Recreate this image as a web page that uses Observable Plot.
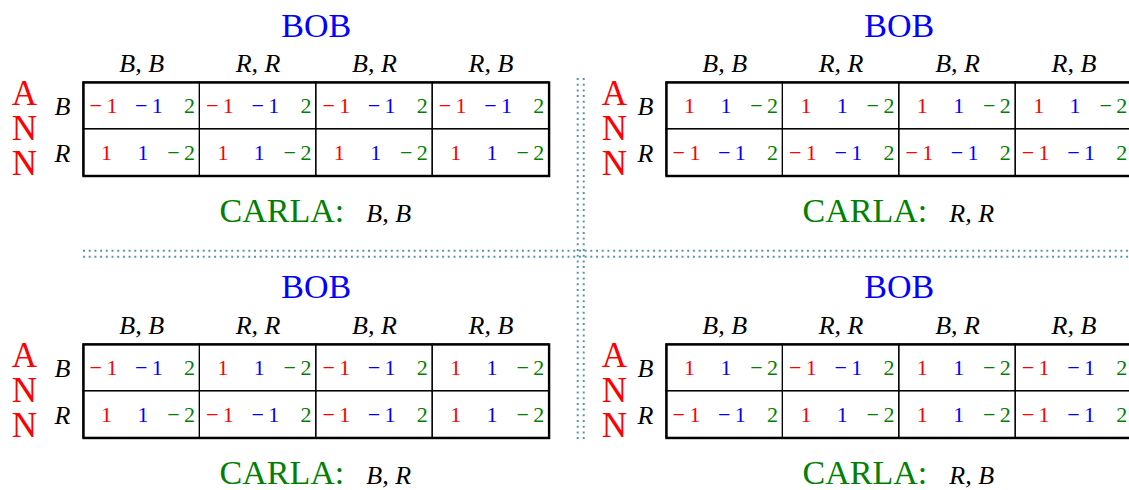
<!DOCTYPE html>
<html><head><meta charset="utf-8">
<script src="https://cdn.jsdelivr.net/npm/d3@7"></script>
<script src="https://cdn.jsdelivr.net/npm/@observablehq/plot@0.6"></script>
<style>html,body{margin:0;padding:0;background:#fff;overflow:hidden}</style>
</head><body><div id="chart"></div>
<script>
// ---- data ----
const playerAnn = "ANN";
const playerBob = "BOB";
const playerCarla = "CARLA:";
const strategies = ["B,B", "R,R", "B,R", "R,B"];   // Bob's columns
const annRows = ["B", "R"];                          // Ann's rows
const carlaPanels = ["B,B", "R,R", "B,R", "R,B"];    // panels: top-left, top-right, bottom-left, bottom-right
const panelCol = [0, 1, 0, 1];
const panelRow = [0, 0, 1, 1];
// payoffs [panel][row][column]
const annPayoff = [
  [[-1, -1, -1, -1], [1, 1, 1, 1]],
  [[1, 1, 1, 1], [-1, -1, -1, -1]],
  [[-1, 1, -1, 1], [1, -1, -1, 1]],
  [[1, -1, 1, -1], [-1, 1, 1, -1]]
];
const bobPayoff = [
  [[-1, -1, -1, -1], [1, 1, 1, 1]],
  [[1, 1, 1, 1], [-1, -1, -1, -1]],
  [[-1, 1, -1, 1], [1, -1, -1, 1]],
  [[1, -1, 1, -1], [-1, 1, 1, -1]]
];
const carlaPayoff = [
  [[2, 2, 2, 2], [-2, -2, -2, -2]],
  [[-2, -2, -2, -2], [2, 2, 2, 2]],
  [[2, -2, 2, -2], [-2, 2, 2, -2]],
  [[-2, 2, -2, 2], [2, -2, -2, 2]]
];

// ---- tables built from the arrays ----
const cells = [];
carlaPanels.forEach((c, p) => annRows.forEach((r, ri) => strategies.forEach((s, ci) => {
  cells.push({fx: panelCol[p], fy: panelRow[p], row: r, col: s,
    ann: annPayoff[p][ri][ci], bob: bobPayoff[p][ri][ci], carla: carlaPayoff[p][ri][ci]});
})));
const panels = carlaPanels.map((c, p) => ({fx: panelCol[p], fy: panelRow[p], carla: c}));

const serif = "'Liberation Serif', 'Times New Roman', serif";
const fmt = v => v < 0 ? "\u2212\u2009" + (-v) : String(v);
const pair = s => s.replace(",", ", ");

function payoff(key, color, neg, dx, anchor) {
  return Plot.text(cells.filter(d => (d[key] < 0) === neg), {
    x: "col", y: "row", fx: "fx", fy: "fy", text: d => fmt(d[key]),
    fill: color, dx, dy: 7.6, lineAnchor: "bottom", textAnchor: anchor,
    fontSize: 22, fontFamily: serif
  });
}

const plot = Plot.plot({
  width: 1132, height: 490,
  marginLeft: 83, marginRight: 0.4, marginTop: 82, marginBottom: 52.5,
  fx: {domain: [0, 1], axis: null, paddingInner: 0.2014, paddingOuter: 0, round: false},
  fy: {domain: [0, 1], axis: null, paddingInner: 0.643, paddingOuter: 0, round: false},
  x: {domain: strategies, axis: null, padding: 0, round: false},
  y: {domain: annRows, axis: null, padding: 0, round: false},
  style: {background: "white", fontFamily: serif, maxWidth: "none", overflow: "visible"},
  marks: [
    Plot.cell(cells, {x: "col", y: "row", fx: "fx", fy: "fy", fill: "none", stroke: "black", strokeWidth: 1.2}),
    Plot.frame({stroke: "black", strokeWidth: 2.4}),
    payoff("ann", "#ff0000", true, -38.2, "middle"),
    payoff("ann", "#ff0000", false, -35.2, "middle"),
    payoff("bob", "#0000ff", true, 7.2, "middle"),
    payoff("bob", "#0000ff", false, 1.2, "middle"),
    payoff("carla", "#008000", true, 53.3, "end"),
    payoff("carla", "#008000", false, 53.3, "end"),
    Plot.text(strategies, {x: d => d, text: d => pair(d), frameAnchor: "top", lineAnchor: "bottom",
      dy: -10.3, fontStyle: "italic", fontSize: 26, fontFamily: serif, fill: "black"}),
    Plot.text(annRows, {y: d => d, text: d => d, frameAnchor: "left", lineAnchor: "bottom",
      dy: 9.6, dx: -21, textAnchor: "middle", fontStyle: "italic", fontSize: 26, fontFamily: serif, fill: "black"}),
    Plot.text(panels, {fx: "fx", fy: "fy", text: () => playerBob, frameAnchor: "top", lineAnchor: "bottom",
      dy: -46, fill: "#0000ff", fontSize: 34, fontFamily: serif}),
    Plot.text(panels, {fx: "fx", fy: "fy", text: () => playerCarla, frameAnchor: "bottom", lineAnchor: "bottom",
      dy: 46.2, dx: 28, textAnchor: "end", fill: "#008000", fontSize: 34, fontFamily: serif}),
    Plot.text(panels, {fx: "fx", fy: "fy", text: d => pair(d.carla), frameAnchor: "bottom", lineAnchor: "bottom",
      dy: 46.2, dx: 50, textAnchor: "start", fill: "black", fontStyle: "italic", fontSize: 26, fontFamily: serif}),
    Plot.text(panels.filter(d => d.fx === 0), {fx: "fx", fy: "fy", text: () => playerAnn.split("").join("\n"),
      frameAnchor: "left", lineAnchor: "middle", lineHeight: 1, dx: -59, textAnchor: "middle",
      fill: "#ff0000", fontSize: 35, fontFamily: serif}),
    Plot.text(panels.filter(d => d.fx === 1), {fx: "fx", fy: "fy", text: () => playerAnn.split("").join("\n"),
      frameAnchor: "left", lineAnchor: "middle", lineHeight: 1, dx: -52, textAnchor: "middle",
      fill: "#ff0000", fontSize: 35, fontFamily: serif})
  ]
});

// dotted double separators placed from the facet scales
const sfx = plot.scale("fx"), sfy = plot.scale("fy");
const g = d3.select(plot).append("g")
  .attr("stroke", "#5b93ad").attr("stroke-width", 2).attr("stroke-dasharray", "2,3.7").attr("fill", "none");
const vx = sfx.apply(1) - 85.3;
const y0 = sfy.apply(0) - 4, y1 = sfy.apply(1) + sfy.bandwidth + 5;
[-3, 3].forEach(o => g.append("line").attr("x1", vx + o).attr("x2", vx + o).attr("y1", y0).attr("y2", y1));
const hy = sfy.apply(1) - 90.3;
[-3, 3].forEach(o => g.append("line").attr("x1", sfx.apply(0)).attr("x2", 1132).attr("y1", hy + o).attr("y2", hy + o));

document.getElementById("chart").appendChild(plot);
</script>
</body></html>
